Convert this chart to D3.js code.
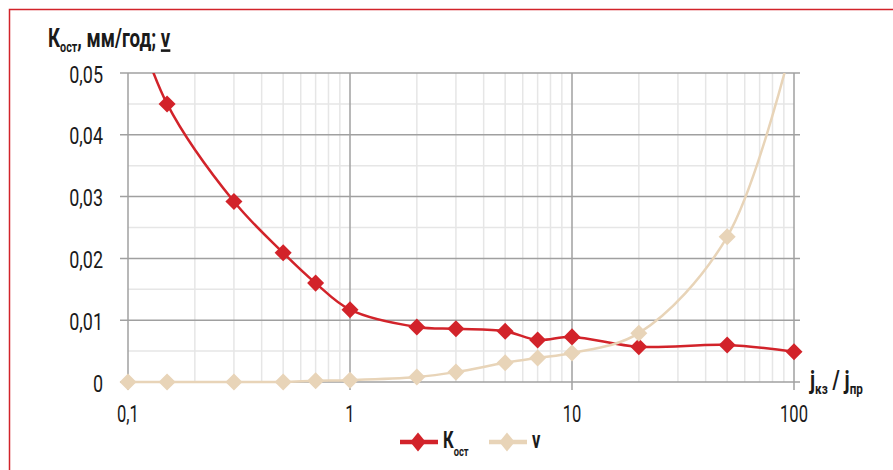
<!DOCTYPE html>
<html><head><meta charset="utf-8">
<script src="https://cdn.jsdelivr.net/npm/d3@7/dist/d3.min.js"></script>
<style>
body{margin:0;background:#fff;}
svg text{font-family:"Roboto","DejaVu Sans Condensed",sans-serif;fill:#1a1a1a;}
</style></head>
<body><svg id="c" width="893" height="470"></svg>
<script>
const xK = [0.1, 0.15, 0.3, 0.5, 0.7, 1, 2, 3, 5, 7, 10, 20, 50, 100];
const kValues = [0.062, 0.045, 0.0292, 0.0209, 0.016, 0.0117, 0.0089, 0.0086, 0.0082, 0.0068, 0.0073, 0.0057, 0.006, 0.0049];
const kMarkers = [false, true, true, true, true, true, true, true, true, true, true, true, true, true];
const xV = [0.1, 0.15, 0.3, 0.5, 0.7, 1, 2, 3, 5, 7, 10, 20, 50, 100];
const vValues = [0, 0, 0, 0, 0.0002, 0.0003, 0.0008, 0.0016, 0.0031, 0.0039, 0.0047, 0.0079, 0.0235, 0.056];
const vMarkers = [true, true, true, true, true, true, true, true, true, true, true, true, true, false];
const yTicks = [0, 0.01, 0.02, 0.03, 0.04, 0.05];
const yTickLabels = ["0", "0,01", "0,02", "0,03", "0,04", "0,05"];
const xTicks = [0.1, 1, 10, 100];
const xTickLabels = ["0,1", "1", "10", "100"];

const svg = d3.select("#c");
const red = "#d2232a", beige = "#e8d4b8";
// frame
svg.append("path").attr("d","M9.5,470 V9.5 H893").attr("fill","none").attr("stroke","#d2232a").attr("stroke-width",1.5);

const x = d3.scaleLog().domain([0.1,100]).range([128,794]);
const y = d3.scaleLinear().domain([0,0.05]).range([382,73]);

const g = svg.append("g");
const minorX = [];
for (let d of [0.1,1,10]) for (let m=2;m<=9;m++) minorX.push(d*m);
g.selectAll(".mvx").data(minorX).join("line")
 .attr("x1",d=>x(d)).attr("x2",d=>x(d)).attr("y1",y(0.05)).attr("y2",y(0))
 .attr("stroke","#e6e6e6").attr("stroke-width",1.5);
const minorY = [0.005,0.015,0.025,0.035,0.045];
g.selectAll(".mhy").data(minorY).join("line")
 .attr("x1",x(0.1)).attr("x2",x(100)).attr("y1",d=>y(d)).attr("y2",d=>y(d))
 .attr("stroke","#e6e6e6").attr("stroke-width",1.5);
g.selectAll(".Mhy").data(yTicks).join("line")
 .attr("x1",x(0.1)-8).attr("x2",x(100)+6).attr("y1",d=>y(d)).attr("y2",d=>y(d))
 .attr("stroke","#a0a0a0").attr("stroke-width",1.5);
g.selectAll(".Mvx").data(xTicks).join("line")
 .attr("x1",d=>x(d)).attr("x2",d=>x(d)).attr("y1",y(0.05)).attr("y2",y(0)+8)
 .attr("stroke","#a0a0a0").attr("stroke-width",1.5);

function ctext(px, py, anchor, size, weight, sx){
  return svg.append("text").attr("transform",`translate(${px},${py}) scale(${sx},1)`)
    .attr("text-anchor",anchor).attr("font-size",size).attr("font-weight",weight||"normal");
}
yTicks.forEach((d,i)=>ctext(103, y(d)+9.5, "end", 23, "normal", 0.78).text(yTickLabels[i]));
xTicks.forEach((d,i)=>ctext(x(d), 422, "middle", 23, "normal", 0.72).text(xTickLabels[i]));

svg.append("clipPath").attr("id","clip").append("rect")
 .attr("x",x(0.1)-20).attr("y",y(0.05)).attr("width",x(100)-x(0.1)+40).attr("height",y(0)-y(0.05)+30);

const line = d3.line().x(d=>x(d[0])).y(d=>y(d[1])).curve(d3.curveCatmullRom.alpha(0.5));
const kData = xK.map((v,i)=>[v,kValues[i]]);
const vData = xV.map((v,i)=>[v,vValues[i]]);
const plot = svg.append("g").attr("clip-path","url(#clip)");
const diamond = d3.symbol().type(d3.symbolDiamond2).size(185);

function series(data, marks, color){
  plot.append("path").datum(data).attr("d",line).attr("fill","none").attr("stroke",color).attr("stroke-width",2.5);
  plot.selectAll(null).data(data.filter((d,i)=>marks[i])).join("path")
   .attr("d",diamond).attr("transform",d=>`translate(${x(d[0])},${y(d[1])})`).attr("fill",color);
}
series(kData,kMarkers,red);
series(vData,vMarkers,beige);

// title
const t = ctext(48, 47, "start", 26, "bold", 0.72);
t.append("tspan").text("К");
t.append("tspan").attr("font-size",15).attr("dy",5).text("ост");
t.append("tspan").attr("dy",-5).text(", мм/год; ");
t.append("tspan").attr("text-decoration","underline").text("v");

// x axis title
const xt = ctext(810, 389, "start", 25, "bold", 0.78);
xt.append("tspan").text("j");
xt.append("tspan").attr("font-size",15).attr("dy",5).text("кз");
xt.append("tspan").attr("dy",-5).text(" / j");
xt.append("tspan").attr("font-size",15).attr("dy",5).text("пр");

// legend
const ld = d3.symbol().type(d3.symbolDiamond2).size(190);
svg.append("line").attr("x1",400).attr("x2",438).attr("y1",442).attr("y2",442).attr("stroke",red).attr("stroke-width",4.5);
svg.append("path").attr("d",ld).attr("transform","translate(418,442) scale(0.9,1.1)").attr("fill",red);
const lt = ctext(443, 448, "start", 23, "bold", 0.72);
lt.append("tspan").text("К");
lt.append("tspan").attr("font-size",13).attr("dy",8).text("ост");
svg.append("line").attr("x1",489).attr("x2",527).attr("y1",442).attr("y2",442).attr("stroke",beige).attr("stroke-width",4.5);
svg.append("path").attr("d",ld).attr("transform","translate(507,442) scale(0.9,1.1)").attr("fill",beige);
ctext(532, 448, "start", 23, "bold", 0.72).text("v");
</script></body></html>
